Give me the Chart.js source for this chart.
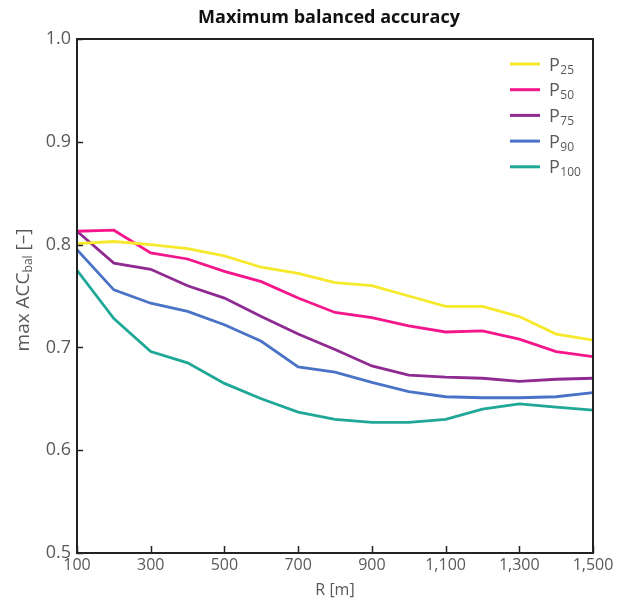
<!DOCTYPE html>
<html>
<head>
<meta charset="utf-8">
<script src="https://cdn.jsdelivr.net/npm/chart.js@4/dist/chart.umd.min.js"></script>
<style>
html,body{margin:0;padding:0;background:#fff;}
#wrap{width:627px;height:606px;position:relative;}
</style>
</head>
<body>
<div id="wrap"><canvas id="c" width="627" height="606"></canvas></div>
<script>
const radius = [100,200,300,400,500,600,700,800,900,1000,1100,1200,1300,1400,1500];
const p25  = [0.801,0.803,0.800,0.796,0.789,0.778,0.772,0.763,0.760,0.750,0.740,0.740,0.730,0.713,0.707];
const p50  = [0.813,0.814,0.792,0.786,0.774,0.764,0.748,0.734,0.729,0.721,0.715,0.716,0.708,0.696,0.691];
const p75  = [0.813,0.782,0.776,0.760,0.748,0.730,0.713,0.698,0.682,0.673,0.671,0.670,0.667,0.669,0.670];
const p90  = [0.795,0.756,0.743,0.735,0.722,0.706,0.681,0.676,0.666,0.657,0.652,0.651,0.651,0.652,0.656];
const p100 = [0.775,0.728,0.696,0.685,0.665,0.650,0.637,0.630,0.627,0.627,0.630,0.640,0.645,0.642,0.639];
const seriesNames = ['25','50','75','90','100'];
const seriesColors = ['#f6e92b','#f5168c','#8e2a91','#4a72c6','#1fa797'];
const seriesValues = [p25,p50,p75,p90,p100];
const titleText = 'Maximum balanced accuracy';
const xTitle = 'R [m]';
const FONT = "'Open Sans', 'DejaVu Sans', sans-serif";
const GREY = '#595959';

const datasets = seriesValues.map((vals,i)=>({
  label: 'P' + seriesNames[i],
  data: radius.map((r,j)=>({x:r,y:vals[j]})),
  borderColor: seriesColors[i],
  backgroundColor: seriesColors[i],
  borderWidth: 2.8,
  pointRadius: 0,
  tension: 0,
  fill: false
}));

const decor = {
  id: 'decor',
  afterDatasetsDraw(chart){
    const ctx = chart.ctx, a = chart.chartArea;
    const xs = chart.scales.x, ys = chart.scales.y;
    ctx.save();
    // title
    ctx.fillStyle = '#111'; ctx.textAlign = 'center'; ctx.textBaseline = 'middle';
    ctx.font = "bold 18px " + FONT;
    ctx.fillText(titleText, 329, 18);
    // inward ticks
    ctx.strokeStyle = '#222'; ctx.lineWidth = 1.5;
    ys.ticks.forEach(t=>{
      const p = Math.round(ys.getPixelForValue(t.value))+0.5;
      ctx.beginPath(); ctx.moveTo(a.left, p); ctx.lineTo(a.left+6, p); ctx.stroke();
    });
    xs.ticks.forEach(t=>{
      const p = Math.round(xs.getPixelForValue(t.value))+0.5;
      ctx.beginPath(); ctx.moveTo(p, a.bottom); ctx.lineTo(p, a.bottom-7); ctx.stroke();
    });
    // frame
    ctx.strokeStyle = '#222'; ctx.lineWidth = 2;
    ctx.strokeRect(a.left, a.top, a.right-a.left, a.bottom-a.top);
    // legend
    const lx0 = a.right - 83, lx1 = a.right - 53, tx = a.right - 44;
    chart.data.datasets.forEach((ds,i)=>{
      const y = a.top + 25 + i*25.7;
      ctx.strokeStyle = ds.borderColor; ctx.lineWidth = 3;
      ctx.beginPath(); ctx.moveTo(lx0,y); ctx.lineTo(lx1,y); ctx.stroke();
      ctx.fillStyle = GREY;
      ctx.textBaseline = 'alphabetic'; ctx.textAlign = 'left';
      ctx.font = "18px " + FONT;
      ctx.fillText('P', tx, y+6.5);
      const w = ctx.measureText('P').width;
      ctx.font = "12px " + FONT;
      ctx.fillText(seriesNames[i], tx + w + 0.5, y+9.5);
    });
    // y axis title with subscript
    ctx.translate(24, 290);
    ctx.rotate(-Math.PI/2);
    ctx.fillStyle = GREY; ctx.textBaseline = 'middle';
    const parts = [['max ACC',19,0],['bal',12,4.5],[' [\u2013]',19,0]];
    let total = 0;
    parts.forEach(p=>{ ctx.font = p[1]+'px '+FONT; total += ctx.measureText(p[0]).width; });
    let x = -total/2;
    parts.forEach(p=>{
      ctx.font = p[1]+'px '+FONT;
      ctx.textAlign = 'left';
      ctx.fillText(p[0], x, p[2]);
      x += ctx.measureText(p[0]).width;
    });
    ctx.restore();
  }
};

new Chart(document.getElementById('c'), {
  type: 'line',
  data: { datasets },
  options: {
    responsive: false,
    animation: false,
    layout: { padding: { left: 0, right: 34, top: 39, bottom: 0 } },
    plugins: {
      legend: { display: false },
      tooltip: { enabled: false },
      title: { display: false }
    },
    scales: {
      x: {
        type: 'linear', min: 100, max: 1500,
        grid: { display: false, drawTicks: false },
        border: { display: false },
        ticks: {
          stepSize: 200, color: GREY, padding: 3, maxRotation: 0,
          font: { family: FONT, size: 16 },
          callback: v => Number(v).toLocaleString('en-US')
        },
        title: { display: true, text: xTitle, color: GREY, font: { family: FONT, size: 16 }, padding: { top: 0, bottom: 6 } },
        afterFit(s){ s.height = 53; }
      },
      y: {
        min: 0.5, max: 1.0,
        grid: { display: false, drawTicks: false },
        border: { display: false },
        ticks: {
          stepSize: 0.1, color: GREY, padding: 6,
          font: { family: FONT, size: 18 },
          callback: v => Number(v).toFixed(1)
        },
        afterFit(s){ s.width = 77; }
      }
    }
  },
  plugins: [decor]
});
</script>
</body>
</html>
